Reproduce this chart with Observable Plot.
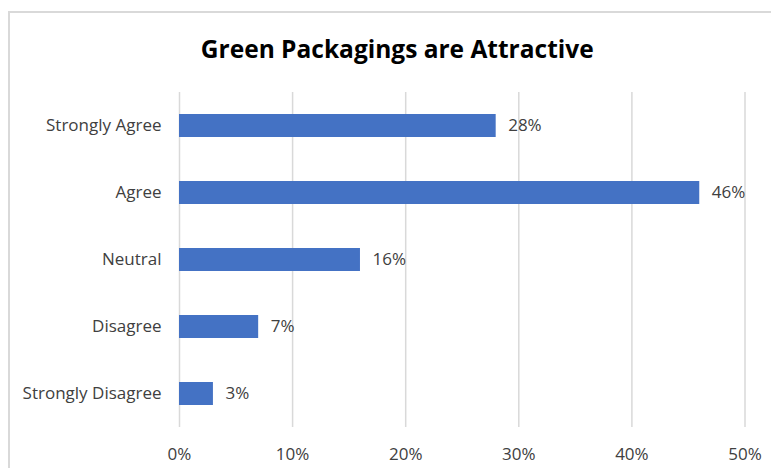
<!DOCTYPE html>
<html>
<head>
<meta charset="utf-8">
<script src="https://cdn.jsdelivr.net/npm/d3@7"></script>
<script src="https://cdn.jsdelivr.net/npm/@observablehq/plot@0.6"></script>
<style>
  html, body { margin: 0; padding: 0; background: #fff; }
  #wrap { position: relative; width: 771px; height: 468px; overflow: hidden; }
  #border { position: absolute; left: 8px; top: 11px; width: 800px; height: 500px; border: 2px solid #d9d9d9; box-sizing: border-box; }
  #chart { position: absolute; left: 0; top: 0; }
</style>
</head>
<body>
<div id="wrap"><div id="border"></div><div id="chart"></div></div>
<script>
const title = "Green Packagings are Attractive";
const categories = ["Strongly Agree", "Agree", "Neutral", "Disagree", "Strongly Disagree"];
const values = [0.28, 0.46, 0.16, 0.07, 0.03];
const xTicks = [0, 0.1, 0.2, 0.3, 0.4, 0.5];

const data = categories.map((c, i) => ({category: c, value: values[i]}));
const fmt = d3.format(".0%");
const font = "Open Sans, sans-serif";

const chart = Plot.plot({
  width: 771,
  height: 468,
  marginLeft: 179,
  marginRight: 26.5,
  marginTop: 92,
  marginBottom: 41,
  style: {fontFamily: font, fontSize: "17px", color: "#404040", background: "transparent"},
  x: {domain: [0, 0.5], ticks: xTicks, tickFormat: fmt, label: null},
  y: {domain: categories, paddingInner: 0.65, paddingOuter: 0.325, label: null},
  marks: [
    Plot.gridX(xTicks, {stroke: "#d9d9d9", strokeOpacity: 1, strokeWidth: 1.5}),
    Plot.axisX({ticks: xTicks, tickFormat: fmt, tickSize: 0, tickPadding: 20, fontSize: 17, fill: "#404040", label: null}),
    Plot.axisY({tickSize: 0, tickPadding: 18, fontSize: 17, fill: "#404040", label: null}),
    Plot.barX(data, {x: "value", y: "category", fill: "#4472C4"}),
    Plot.text(data, {x: "value", y: "category", text: d => fmt(d.value), textAnchor: "start", dx: 12, fontSize: 17, fill: "#404040"}),
    Plot.text([title], {frameAnchor: "top", dx: -65, dy: -52, fontSize: 24.5, fontWeight: "bold", fill: "#000"})
  ]
});
document.getElementById("chart").appendChild(chart);
</script>
</body>
</html>
